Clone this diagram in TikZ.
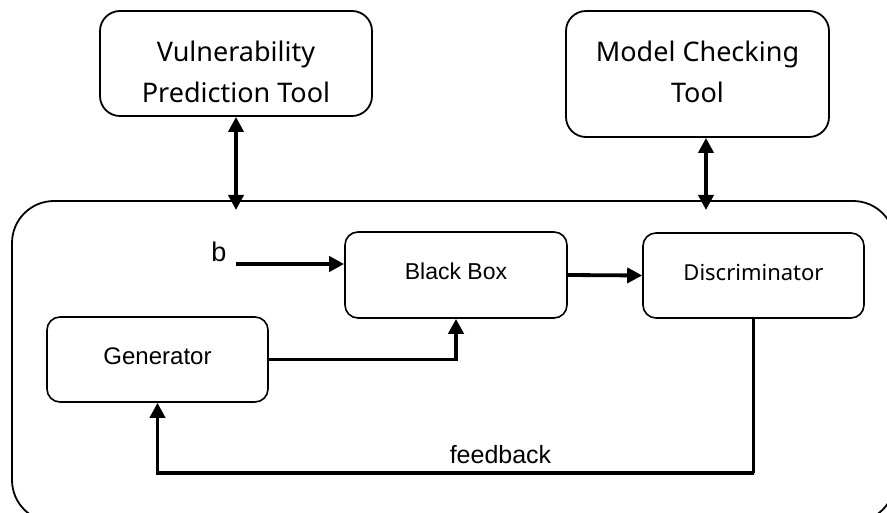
\documentclass[tikz,border=0pt]{standalone}
\usepackage{fontspec}
\setmainfont{Liberation Sans}
\newfontfamily\rfont{Noto Sans}
\usetikzlibrary{arrows.meta}
\begin{document}
\begin{tikzpicture}[x=1pt,y=-1pt,
  toolbox/.style={draw,line width=1.8pt,rounded corners=20pt,align=center,inner sep=0pt,
    font=\rfont\fontsize{27}{41}\selectfont},
  procbox/.style={draw,line width=1.6pt,rounded corners=13pt,align=center,inner sep=0pt,
    text height=17pt,text depth=7pt},
  conn/.style={line width=3.8pt,-{Triangle[length=15pt,width=15pt]}},
  biconn/.style={line width=3.8pt,{Triangle[length=15pt,width=15pt]}-{Triangle[length=15pt,width=15pt]}}]
\useasboundingbox (0,0) rectangle (887,513);
\begin{scope}
\clip (0,0) rectangle (887,513);
% outer container holding the generator loop
\draw[line width=1.8pt,rounded corners=42pt] (12,201) rectangle (895,522);
\end{scope}
% external tools
\node[toolbox,minimum width=272pt,minimum height=105pt,text height=84pt,text depth=5pt]
  (vpt) at (236,63.5) {Vulnerability\\Prediction Tool};
\node[toolbox,minimum width=263pt,minimum height=126pt,text height=63pt,text depth=5pt]
  (mct) at (697.5,74) {Model Checking\\Tool};
% inner blocks
\node[procbox,minimum width=222pt,minimum height=86pt,font=\fontsize{23}{27}\selectfont]
  (bb) at (456,275) {Black Box};
\node[procbox,minimum width=221pt,minimum height=85pt,font=\rfont\fontsize{22}{26}\selectfont]
  (disc) at (753.5,275.5) {Discriminator};
\node[procbox,minimum width=221pt,minimum height=85pt,font=\fontsize{24}{28}\selectfont]
  (gen) at (157.5,359.5) {Generator};
\node[font=\fontsize{27}{30}\selectfont,inner sep=0pt,anchor=base] (b) at (219,262) {b};
\coordinate (bstart) at (236,264);
\coordinate (vptin) at (236,210);
\coordinate (mctin) at (706,210);
\coordinate (fbcorner) at (754,473);
% connectors
\draw[biconn] (vpt.south) -- (vptin);
\draw[biconn] (mct.south -| mctin) -- (mctin);
\draw[conn] (bstart) -- (bstart -| bb.west);
\draw[conn] (bb.east) -- (disc.west);
\draw[conn] (gen.east) -| (bb.south);
\draw[conn] (disc.south) |- (fbcorner) -| (gen.south);
\node[font=\fontsize{25}{28}\selectfont,inner sep=0pt,anchor=base] (fb) at (500.5,463) {feedback};
\end{tikzpicture}
\end{document}
